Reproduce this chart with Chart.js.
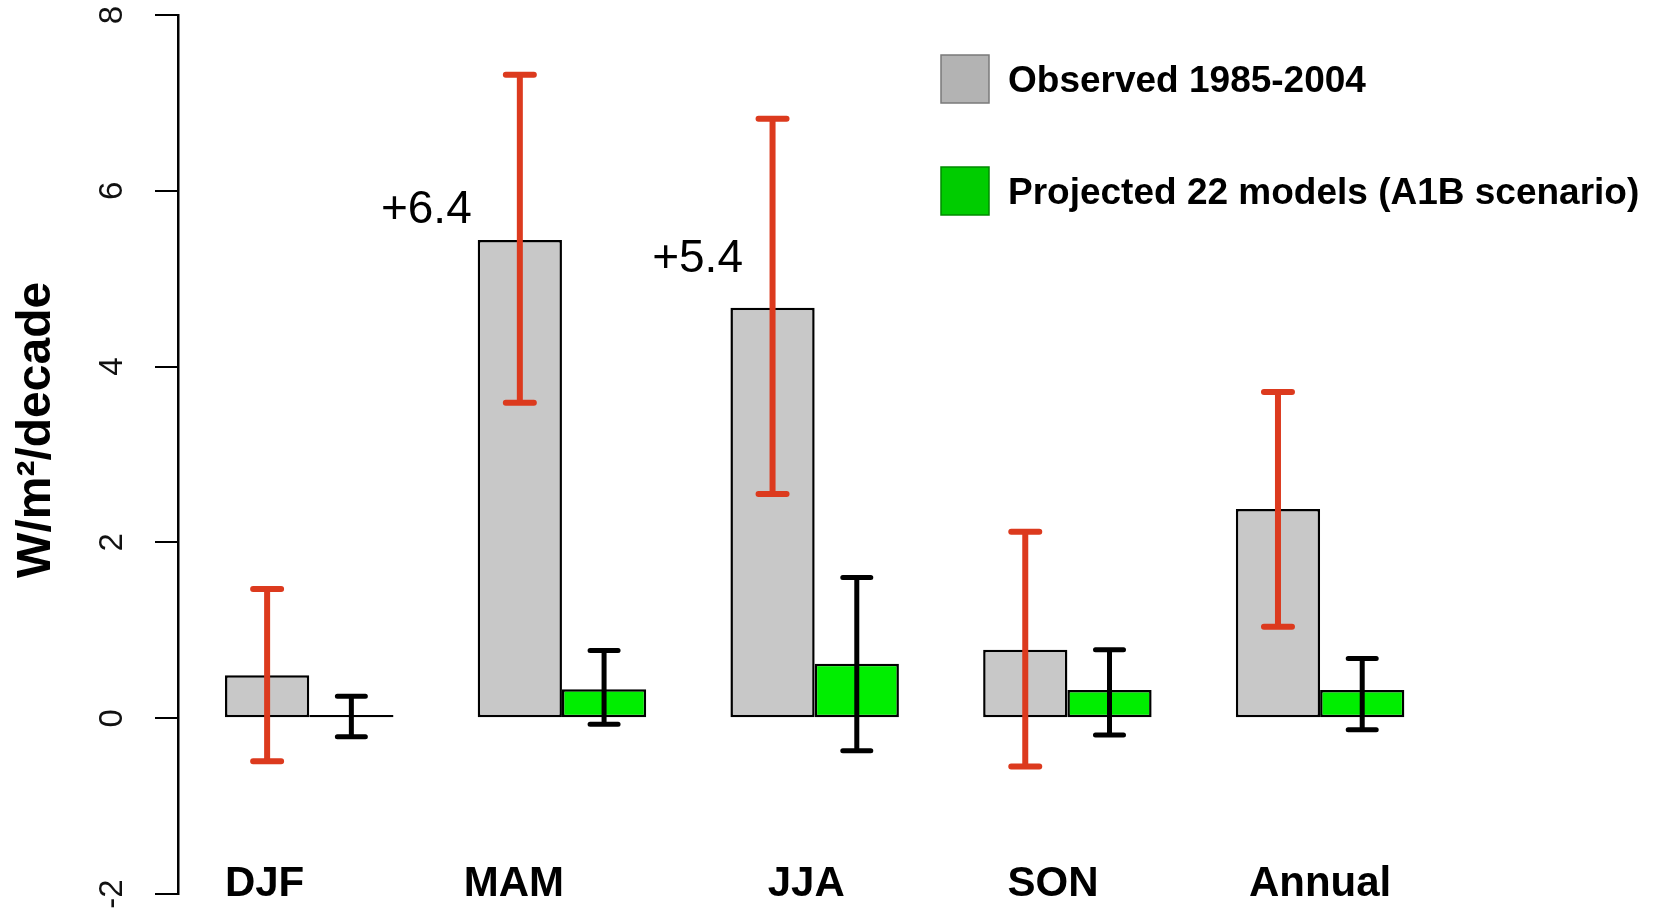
<!DOCTYPE html>
<html>
<head>
<meta charset="utf-8">
<script src="https://cdn.jsdelivr.net/npm/chart.js@4.4.1/dist/chart.umd.min.js"></script>
<style>
  body { margin: 0; background: #fff; }
  #box { width: 1663px; height: 912px; }
</style>
</head>
<body>
<div id="box"><canvas id="plotTrend"></canvas></div>
<script>
// Seasons and trend values (W/m2/decade)
const seasons = ['DJF', 'MAM', 'JJA', 'SON', 'Annual'];
const observed = [0.49, 5.44, 4.67, 0.78, 2.38];
const observedLow = [-0.49, 3.59, 2.55, -0.55, 1.04];
const observedHigh = [1.47, 7.32, 6.82, 2.12, 3.71];
const projected = [0.035, 0.33, 0.62, 0.32, 0.32];
const projectedLow = [-0.21, -0.07, -0.37, -0.19, -0.13];
const projectedHigh = [0.25, 0.77, 1.60, 0.78, 0.68];
const yTicks = [-2, 0, 2, 4, 6, 8];
const yTitle = 'W/m²/decade';
const notes = ['+6.4', '+5.4'];

Chart.defaults.font.family = "'Liberation Sans', Arial, sans-serif";
Chart.defaults.color = '#000';

// barplot layout: two bars then one empty slot per season
function slots(values, offset) {
    return values.map((v, i) => ({ x: 3 * i + offset, y: v }));
}

// draws the error bars over each bar
const errorBars = {
    id: 'errorBars',
    afterDatasetsDraw(chart) {
        const ctx = chart.ctx;
        const y = chart.scales.y;
        chart.data.datasets.forEach((ds, d) => {
            const meta = chart.getDatasetMeta(d);
            meta.data.forEach((bar, i) => {
                const top = y.getPixelForValue(ds.errHigh[i]);
                const bottom = y.getPixelForValue(ds.errLow[i]);
                ctx.save();
                ctx.strokeStyle = ds.errColor;
                ctx.lineWidth = ds.errWidth;
                ctx.lineCap = 'round';
                ctx.beginPath();
                ctx.moveTo(bar.x, top);
                ctx.lineTo(bar.x, bottom);
                ctx.moveTo(bar.x - 14, top);
                ctx.lineTo(bar.x + 14, top);
                ctx.moveTo(bar.x - 14, bottom);
                ctx.lineTo(bar.x + 14, bottom);
                ctx.stroke();
                ctx.restore();
            });
        });
    }
};

// axis title, season names, the two notes and the legend
const textLayer = {
    id: 'textLayer',
    afterDraw(chart, args, opts) {
        const ctx = chart.ctx;
        const x = chart.scales.x;
        const y = chart.scales.y;
        ctx.save();
        ctx.fillStyle = '#000';

        // y axis title, read from bottom to top
        ctx.save();
        ctx.translate(37, y.getPixelForValue(opts.titleAt));
        ctx.rotate(-Math.PI / 2);
        ctx.textAlign = 'center';
        ctx.textBaseline = 'middle';
        ctx.font = "bold 48px 'Liberation Sans', Arial, sans-serif";
        ctx.fillText(yTitle, 0, 0);
        ctx.restore();

        ctx.textAlign = 'center';
        ctx.textBaseline = 'alphabetic';
        ctx.font = "bold 42px 'Liberation Sans', Arial, sans-serif";
        seasons.forEach((s, i) => {
            ctx.fillText(s, x.getPixelForValue(opts.seasonPos[i]), 896);
        });

        ctx.font = "46px 'Liberation Sans', Arial, sans-serif";
        notes.forEach((n, i) => {
            const p = opts.notePos[i];
            ctx.fillText(n, x.getPixelForValue(p[0]), y.getPixelForValue(p[1]));
        });

        // legend
        ctx.textAlign = 'left';
        ctx.font = "bold 37px 'Liberation Sans', Arial, sans-serif";
        chart.data.datasets.forEach((ds, i) => {
            const top = opts.legendTop[i];
            ctx.fillStyle = opts.legendFill[i];
            ctx.fillRect(941, top, 48, 48);
            ctx.strokeStyle = opts.legendStroke[i];
            ctx.lineWidth = 1.5;
            ctx.strokeRect(941, top, 48, 48);
            ctx.fillStyle = '#000';
            ctx.fillText(ds.label, 1008, top + 37);
        });
        ctx.restore();
    }
};

new Chart(document.getElementById('plotTrend'), {
    type: 'bar',
    data: {
        datasets: [{
            label: 'Observed 1985-2004',
            data: slots(observed, 0.5),
            backgroundColor: '#C8C8C8',
            errLow: observedLow,
            errHigh: observedHigh,
            errColor: '#DC3A1E',
            errWidth: 6
        }, {
            label: 'Projected 22 models (A1B scenario)',
            data: slots(projected, 1.5),
            backgroundColor: '#00EE00',
            errLow: projectedLow,
            errHigh: projectedHigh,
            errColor: '#000',
            errWidth: 5
        }]
    },
    options: {
        responsive: true,
        maintainAspectRatio: false,
        animation: false,
        layout: { padding: { left: 0, top: 15, right: 10, bottom: 18 } },
        datasets: {
            bar: {
                grouped: false,
                barPercentage: 1,
                categoryPercentage: 1,
                borderColor: '#000',
                borderWidth: 2.5,
                borderSkipped: false,
                inflateAmount: 0
            }
        },
        scales: {
            x: {
                type: 'linear',
                display: false,
                offset: false,
                min: -0.558,
                max: 16.952,
                ticks: { stepSize: 1, includeBounds: false }
            },
            y: {
                min: -2,
                max: 8,
                afterBuildTicks: scale => { scale.ticks = yTicks.map(v => ({ value: v })); },
                afterFit: scale => {
                    scale.width = 178;
                    scale.paddingTop = 0;
                    scale.paddingBottom = 0;
                },
                ticks: {
                    minRotation: 90,
                    maxRotation: 90,
                    crossAlign: 'center',
                    padding: 27,
                    color: '#111',
                    font: { size: 33, lineHeight: 0.8 }
                },
                grid: {
                    drawOnChartArea: false,
                    drawTicks: true,
                    tickLength: 23,
                    color: '#000',
                    lineWidth: 2
                },
                border: { display: true, color: '#000', width: 2.5 }
            }
        },
        plugins: {
            legend: { display: false },
            tooltip: { enabled: false },
            textLayer: {
                titleAt: 3.28,
                seasonPos: [0.47, 3.43, 6.9, 9.83, 13.0],
                notePos: [[2.39, 5.63], [5.61, 5.08]],
                legendTop: [55, 167],
                legendFill: ['#B3B3B3', '#00CC00'],
                legendStroke: ['#7A7A7A', '#008A00']
            }
        }
    },
    plugins: [errorBars, textLayer]
});
</script>
</body>
</html>
